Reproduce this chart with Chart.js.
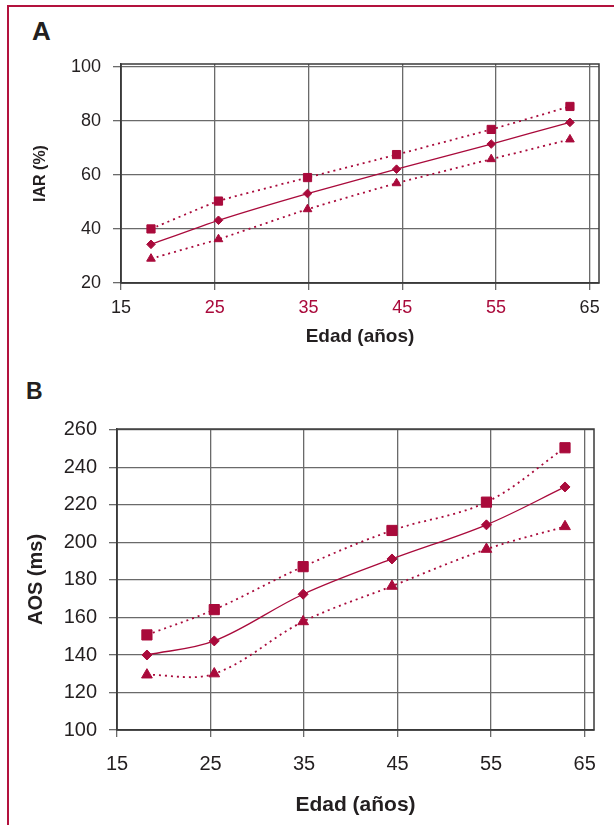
<!DOCTYPE html>
<html>
<head>
<meta charset="utf-8">
<script src="https://cdn.jsdelivr.net/npm/chart.js@4.4.1/dist/chart.umd.min.js"></script>
<style>
  body { margin: 0; background: #fff; }
  #page { position: relative; width: 614px; height: 825px; overflow: hidden; font-family: "Liberation Sans", Arial, sans-serif; }
  #marco { position: absolute; left: 7px; top: 5px; width: 620px; height: 840px; border-top: 2px solid #b3123e; border-left: 2px solid #b3123e; }
  .letra { position: absolute; font-weight: bold; color: #231f20; }
  canvas { position: absolute; left: 0; }
</style>
</head>
<body>
<div id="page">
  <div id="marco"></div>
  <div class="letra" style="left:32px;top:16px;font-size:26px;">A</div>
  <div class="letra" style="left:26px;top:378px;font-size:23px;">B</div>
  <canvas id="chartA" width="614" height="350" style="top:0"></canvas>
  <canvas id="chartB" width="614" height="465" style="top:360px"></canvas>
</div>
<script>
// edad media de cada grupo (eje x)
var edades = [18.2, 25.4, 34.9, 44.4, 54.5, 62.9];
var xTicks = [15, 25, 35, 45, 55, 65];

// A: IAR (%)
var iarSup = [40, 50.3, 59, 67.5, 76.8, 85.3];
var iarMedia = [34.3, 43.2, 53.1, 62.1, 71.4, 79.4];
var iarInf = [29, 36.2, 47.3, 56.9, 65.8, 73.1];
var iarTicks = [20, 40, 60, 80, 100];

// B: AOS (ms)
var aosSup = [150.7, 164.2, 187.1, 206.4, 221.5, 250.5];
var aosMedia = [140, 147.5, 172.4, 191.2, 209.4, 229.6];
var aosInf = [129.4, 130, 157.8, 176.7, 196.4, 208.5];
var aosTicks = [100, 120, 140, 160, 180, 200, 220, 240, 260];

var rojo = '#a90a3b';
var texto = '#231f20';
var rejilla = '#6a6a6a';

function puntos(ys) {
  return ys.map(function (y, i) { return { x: edades[i], y: y }; });
}

// marco del area del grafico
var marco = {
  id: 'marco',
  beforeDatasetsDraw: function (chart) {
    var a = chart.chartArea, ctx = chart.ctx;
    ctx.save();
    ctx.strokeStyle = '#3a3a3a';
    ctx.lineWidth = 1.5;
    ctx.strokeRect(a.left, a.top, a.right - a.left, a.bottom - a.top);
    ctx.restore();
  }
};

function serie(ys, forma, radio, punteada, tension) {
  return {
    data: puntos(ys),
    borderColor: rojo,
    backgroundColor: rojo,
    pointBackgroundColor: rojo,
    pointBorderColor: rojo,
    pointStyle: forma,
    pointRadius: radio,
    pointBorderWidth: 1,
    borderWidth: punteada ? 1.8 : 1.3,
    borderDash: punteada ? [2, 4] : [],
    tension: tension,
    fill: false
  };
}

function opciones(cfg) {
  return {
    responsive: false,
    animation: false,
    layout: { padding: cfg.pad },
    plugins: { legend: { display: false }, tooltip: { enabled: false } },
    scales: {
      x: {
        type: 'linear',
        min: 15,
        max: 66,
        afterBuildTicks: function (s) { s.ticks = xTicks.map(function (v) { return { value: v }; }); },
        afterFit: function (s) { s.height = cfg.xAlto; },
        grid: { color: rejilla, lineWidth: 1.3, tickLength: 7 },
        border: { color: '#3a3a3a', width: 1.5 },
        ticks: {
          padding: cfg.xPad,
          color: cfg.xColor,
          font: { family: 'Liberation Sans', size: cfg.tickSize },
          callback: function (v) { return String(v); }
        },
        title: {
          display: true,
          text: 'Edad (años)',
          color: texto,
          font: { family: 'Liberation Sans', size: cfg.tituloX, weight: 'bold' },
          padding: { top: 0, bottom: cfg.xTitPad }
        }
      },
      y: {
        min: cfg.yMin,
        max: cfg.yMax,
        afterBuildTicks: function (s) { s.ticks = cfg.yTicks.map(function (v) { return { value: v }; }); },
        afterFit: function (s) { s.width = cfg.yAncho; },
        grid: { color: rejilla, lineWidth: 1.3, tickLength: 8 },
        border: { color: '#3a3a3a', width: 1.5 },
        ticks: {
          padding: 12,
          color: texto,
          font: { family: 'Liberation Sans', size: cfg.tickSize },
          callback: function (v) { return String(v); }
        },
        title: {
          display: true,
          text: cfg.yTitulo,
          color: texto,
          font: { family: 'Liberation Sans', size: cfg.tituloY, weight: 'bold' },
          padding: { top: cfg.yTitPad, bottom: 0 }
        }
      }
    }
  };
}

new Chart(document.getElementById('chartA').getContext('2d'), {
  type: 'line',
  data: {
    datasets: [
      serie(iarSup, 'rect', 5.8, true, 0.15),
      serie(iarMedia, 'rectRot', 4.3, false, 0.15),
      serie(iarInf, 'triangle', 5, true, 0.15)
    ]
  },
  options: opciones({
    pad: { left: 0, right: 15, top: 64, bottom: 0 },
    xAlto: 67, yAncho: 121,
    xPad: 7, xTitPad: 2, yTitPad: 31,
    yMin: 20, yMax: 101, yTicks: iarTicks,
    tickSize: 18, tituloX: 19, tituloY: 16,
    yTitulo: 'IAR (%)',
    xColor: function (c) { return (c.tick && (c.tick.value === 15 || c.tick.value === 65)) ? texto : rojo; }
  }),
  plugins: [marco]
});

new Chart(document.getElementById('chartB').getContext('2d'), {
  type: 'line',
  data: {
    datasets: [
      serie(aosSup, 'rect', 7.2, true, 0.35),
      serie(aosMedia, 'rectRot', 5, false, 0.35),
      serie(aosInf, 'triangle', 6.2, true, 0.35)
    ]
  },
  options: opciones({
    pad: { left: 0, right: 20, top: 69, bottom: 0 },
    xAlto: 95, yAncho: 117,
    xPad: 15, xTitPad: 7, yTitPad: 24,
    yMin: 100, yMax: 260.5, yTicks: aosTicks,
    tickSize: 20, tituloX: 21, tituloY: 20,
    yTitulo: 'AOS (ms)',
    xColor: texto
  }),
  plugins: [marco]
});
</script>
</body>
</html>
